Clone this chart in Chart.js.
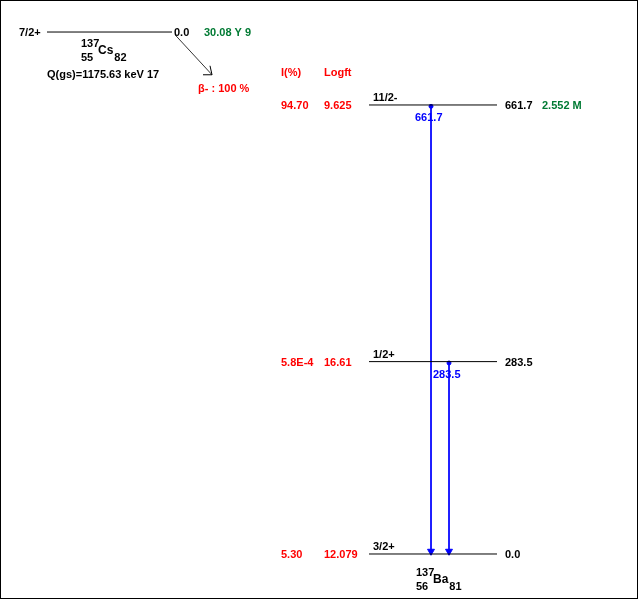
<!DOCTYPE html>
<html>
<head>
<meta charset="UTF-8">
<script src="https://cdn.jsdelivr.net/npm/chart.js"></script>
<style>
  body { margin: 0; background: #fff; }
  #wrap { width: 639px; height: 600px; position: relative; }
</style>
</head>
<body>
<div id="wrap"><canvas id="c"></canvas></div>
<script>
// daughter levels (keV)
const levelEnergies = [661.7, 283.5, 0.0];
const levelSpins = ["11/2-", "1/2+", "3/2+"];
const levelIntensity = ["94.70", "5.8E-4", "5.30"];
const levelLogft = ["9.625", "16.61", "12.079"];
const levelHalfLife = ["2.552 M", "", ""];
// gamma transitions: [from, to]
const gammaFrom = [661.7, 283.5];
const gammaTo = [0.0, 0.0];
const gammaX = [431, 449];
// parent
const parentLevel = 769.2; // drawn position for the parent level
const parentLabel = ["7/2+", "0.0", "30.08 Y 9"];

const RED = "#ff0000", GREEN = "#007a33", BLUE = "#0000ff";
const FONT = 'bold 11px "Liberation Sans", Arial, sans-serif';

const datasets = [];
levelEnergies.forEach(e => {
  datasets.push({ data: [{x: 369, y: e}, {x: 497, y: e}], borderColor: "#000", borderWidth: 1, pointRadius: 0, showLine: true });
});
datasets.push({ data: [{x: 47, y: parentLevel}, {x: 172, y: parentLevel}], borderColor: "#000", borderWidth: 1, pointRadius: 0, showLine: true });
// beta arrow
datasets.push({ data: [{x: 175, y: parentLevel - 4}, {x: 212, y: parentLevel - 63}], borderColor: "#000", borderWidth: 0.8, showLine: true,
  pointRadius: [0, 0] });
gammaFrom.forEach((f, i) => {
  datasets.push({ data: [{x: gammaX[i], y: f - 2}, {x: gammaX[i], y: gammaTo[i] + 4}], borderColor: BLUE, borderWidth: 1, showLine: true,
    pointStyle: ["circle", "triangle"], rotation: [0, 180], pointRadius: [2, 4], pointBackgroundColor: BLUE, pointBorderColor: BLUE });
});

const labels = {
  id: "labels",
  afterDatasetsDraw(chart) {
    const {ctx, scales: {x, y}} = chart;
    ctx.save();
    ctx.font = FONT;
    ctx.textBaseline = "middle";
    const t = (s, px, py, col, align) => { ctx.fillStyle = col; ctx.textAlign = align || "left"; ctx.fillText(s, px, py); };
    const pY = y.getPixelForValue(parentLevel);
    t(parentLabel[0], 19, pY + 1, "#000");
    t(parentLabel[1], 174, pY + 1, "#000");
    t(parentLabel[2], 204, pY + 1, GREEN);
    // beta arrow head
    const b = y.getPixelForValue(parentLevel - 63);
    ctx.strokeStyle = "#000"; ctx.lineWidth = 1;
    ctx.beginPath(); ctx.moveTo(203, b); ctx.lineTo(212, b); ctx.lineTo(210, b - 9); ctx.stroke();
    // nuclide labels
    const nuc = (a, z, sym, n, px, py) => {
      ctx.font = FONT;
      t(a, px, py - 8, "#000"); t(z, px, py + 6, "#000");
      ctx.font = 'bold 12px "Liberation Sans", Arial, sans-serif';
      t(sym, px + 17, py - 1, "#000");
      const w = ctx.measureText(sym).width;
      ctx.font = FONT;
      t(n, px + 18 + w, py + 6, "#000");
    };
    nuc("137", "55", "Cs", "82", 81, pY + 20);
    t("Q(gs)=1175.63 keV 17", 47, pY + 43, "#000");
    t("β- : 100 %", 198, 89, RED);
    t("I(%)", 281, 73, RED);
    t("Logft", 324, 73, RED);
    levelEnergies.forEach((e, i) => {
      const py = y.getPixelForValue(e);
      t(levelIntensity[i], 281, py + 1, RED);
      t(levelLogft[i], 324, py + 1, RED);
      t(levelSpins[i], 373, py - 7, "#000");
      t(e.toFixed(1), 505, py + 1, "#000");
      if (levelHalfLife[i]) t(levelHalfLife[i], 542, py + 1, GREEN);
    });
    gammaFrom.forEach((f, i) => {
      t(f.toFixed(1), gammaX[i] - 16, y.getPixelForValue(f) + 13, BLUE);
    });
    nuc("137", "56", "Ba", "81", 416, y.getPixelForValue(0) + 27);
    // frame
    ctx.strokeStyle = "#000"; ctx.lineWidth = 1;
    ctx.strokeRect(0.5, 0.5, 637, 598);
    ctx.restore();
  }
};

new Chart(document.getElementById("c"), {
  type: "scatter",
  data: { datasets },
  options: {
    responsive: true, maintainAspectRatio: false, animation: false,
    layout: { padding: 0, autoPadding: false },
    plugins: { legend: { display: false }, tooltip: { enabled: false } },
    scales: {
      x: { type: "linear", min: 0, max: 639, display: false },
      y: { type: "linear", min: -67.8, max: 816.4, display: false }
    }
  },
  plugins: [labels]
});
</script>
</body>
</html>
